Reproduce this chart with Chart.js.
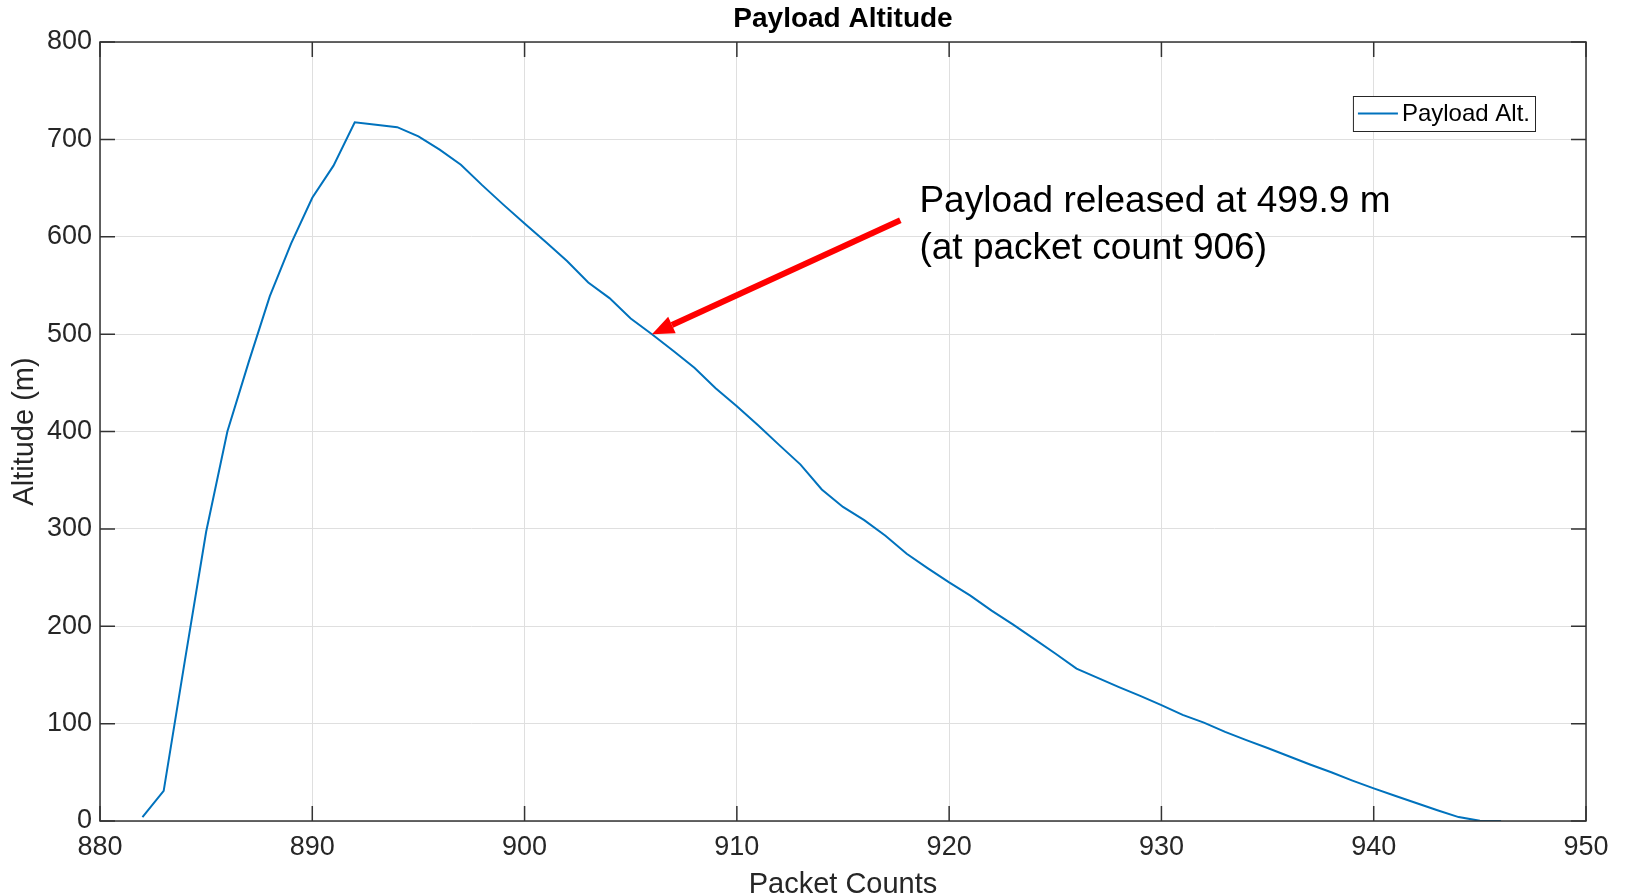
<!DOCTYPE html>
<html>
<head>
<meta charset="utf-8">
<title>Payload Altitude</title>
<script src="https://cdn.jsdelivr.net/npm/chart.js@4.4.1/dist/chart.umd.min.js"></script>
<style>
  html, body { margin: 0; padding: 0; background: #fff; }
  #wrap { width: 1625px; height: 895px; }
</style>
</head>
<body>
<div id="wrap"><canvas id="altChart"></canvas></div>
<script>
// telemetry
var packetCounts = [882, 883, 884, 885, 886, 887, 888, 889, 890, 891,
  892, 893, 894, 895, 896, 897, 898, 899, 900, 901,
  902, 903, 904, 905, 906, 907, 908, 909, 910, 911,
  912, 913, 914, 915, 916, 917, 918, 919, 920, 921,
  922, 923, 924, 925, 926, 927, 928, 929, 930, 931,
  932, 933, 934, 935, 936, 937, 938, 939, 940, 941,
  942, 943, 944, 945, 946];
var altitudes = [4, 31, 165, 297, 400, 471, 539, 593, 640, 673,
  717.5, 715, 712.5, 703, 689.5, 674, 653, 633, 613.5, 594.5,
  575, 553, 537, 516, 499.9, 483, 465.5, 444.5, 426, 406.5,
  386, 366, 340.5, 322.5, 309, 293, 274.5, 259.5, 245, 231.5,
  216, 202, 187, 172, 156.5, 147, 137.5, 128.5, 119, 109,
  101, 91.5, 83, 75, 66.5, 58, 50, 41.5, 33.5, 26,
  18.5, 11, 4, 0.2, 0];
var xTicks = [880, 890, 900, 910, 920, 930, 940, 950];
var yTicks = [0, 100, 200, 300, 400, 500, 600, 700, 800];
var seriesName = 'Payload Alt.';
var chartTitle = 'Payload Altitude';
var noteLines = ['Payload released at 499.9 m', '(at packet count 906)'];

var FONT = '"Liberation Sans", Arial, Helvetica, sans-serif';
Chart.defaults.font.family = FONT;

var points = [];
for (var i = 0; i < packetCounts.length; i++) {
  points.push({ x: packetCounts[i], y: altitudes[i] });
}

// title centred over the axes, like matlab does it
var axesTitle = {
  id: 'axesTitle',
  afterDraw: function(chart) {
    var ctx = chart.ctx, a = chart.chartArea;
    ctx.save();
    ctx.font = 'bold 28px ' + FONT;
    ctx.fillStyle = '#000000';
    ctx.textAlign = 'center';
    ctx.textBaseline = 'alphabetic';
    ctx.fillText(chartTitle, (a.left + a.right) / 2, a.top - 15);
    ctx.restore();
  }
};

// box round the axes with inward ticks on every side
var matlabAxes = {
  id: 'matlabAxes',
  afterDatasetsDraw: function(chart) {
    var ctx = chart.ctx, a = chart.chartArea;
    var xs = chart.scales.x, ys = chart.scales.y;
    var tl = 15;
    ctx.save();
    ctx.strokeStyle = '#333333';
    ctx.lineWidth = 1.5;
    ctx.beginPath();
    xTicks.forEach(function(v) {
      var px = xs.getPixelForValue(v);
      ctx.moveTo(px, a.bottom); ctx.lineTo(px, a.bottom - tl);
      ctx.moveTo(px, a.top); ctx.lineTo(px, a.top + tl);
    });
    yTicks.forEach(function(v) {
      var py = ys.getPixelForValue(v);
      ctx.moveTo(a.left, py); ctx.lineTo(a.left + tl, py);
      ctx.moveTo(a.right, py); ctx.lineTo(a.right - tl, py);
    });
    ctx.stroke();
    ctx.strokeRect(a.left, a.top, a.right - a.left, a.bottom - a.top);
    ctx.restore();
  }
};

// red arrow + text pointing at the release point
var releaseNote = {
  id: 'releaseNote',
  afterDraw: function(chart, args, opts) {
    var ctx = chart.ctx;
    var xs = chart.scales.x, ys = chart.scales.y;
    var tipX = xs.getPixelForValue(opts.tip.x), tipY = ys.getPixelForValue(opts.tip.y);
    var tailX = xs.getPixelForValue(opts.tail.x), tailY = ys.getPixelForValue(opts.tail.y);
    var ang = Math.atan2(tipY - tailY, tipX - tailX);
    var headLen = 22, headW = 9;
    var bx = tipX - headLen * Math.cos(ang), by = tipY - headLen * Math.sin(ang);

    ctx.save();
    ctx.strokeStyle = '#ff0000';
    ctx.fillStyle = '#ff0000';
    ctx.lineWidth = 6;
    ctx.lineCap = 'butt';
    ctx.beginPath();
    ctx.moveTo(tailX, tailY);
    ctx.lineTo(bx, by);
    ctx.stroke();
    ctx.beginPath();
    ctx.moveTo(tipX, tipY);
    ctx.lineTo(bx + headW * Math.sin(ang), by - headW * Math.cos(ang));
    ctx.lineTo(bx - headW * Math.sin(ang), by + headW * Math.cos(ang));
    ctx.closePath();
    ctx.fill();

    ctx.fillStyle = '#000000';
    ctx.font = '37px ' + FONT;
    ctx.textAlign = 'left';
    ctx.textBaseline = 'alphabetic';
    var tx = xs.getPixelForValue(opts.text.x), ty = ys.getPixelForValue(opts.text.y);
    noteLines.forEach(function(line, k) {
      ctx.fillText(line, tx, ty + k * 47);
    });
    ctx.restore();
  }
};

// legend box inside the top right corner
var innerLegend = {
  id: 'innerLegend',
  afterDraw: function(chart) {
    var ctx = chart.ctx, a = chart.chartArea;
    var ds = chart.data.datasets[0];
    ctx.save();
    ctx.font = '24px ' + FONT;
    var tw = ctx.measureText(ds.label).width;
    var w = 5 + 40 + 4 + tw + 5, h = 35;
    var x = a.right - 51 - w, y = a.top + 54;
    ctx.fillStyle = '#ffffff';
    ctx.fillRect(x, y, w, h);
    ctx.strokeStyle = '#262626';
    ctx.lineWidth = 1;
    ctx.strokeRect(x + 0.5, y + 0.5, w, h);
    ctx.strokeStyle = ds.borderColor;
    ctx.lineWidth = 2;
    ctx.beginPath();
    ctx.moveTo(x + 5, y + h / 2);
    ctx.lineTo(x + 45, y + h / 2);
    ctx.stroke();
    ctx.fillStyle = '#000000';
    ctx.textBaseline = 'middle';
    ctx.fillText(ds.label, x + 49, y + h / 2 + 1);
    ctx.restore();
  }
};

var ctx = document.getElementById('altChart');

var altChart = new Chart(ctx, {
  type: 'line',
  data: {
    datasets: [{
      label: seriesName,
      data: points,
      borderColor: '#0072BD',
      borderWidth: 2,
      pointRadius: 0,
      tension: 0,
      fill: false
    }]
  },
  options: {
    responsive: true,
    maintainAspectRatio: false,
    animation: false,
    layout: { padding: { left: 0, right: 39, top: 42, bottom: 0 } },
    scales: {
      x: {
        type: 'linear',
        min: 880,
        max: 950,
        afterBuildTicks: function(s) { s.ticks = xTicks.map(function(v) { return { value: v }; }); },
        afterFit: function(s) { s.height = 74; },
        grid: { color: '#dfdfdf', lineWidth: 1, drawTicks: false },
        border: { display: false },
        ticks: { color: '#262626', font: { size: 27 }, padding: 10, maxRotation: 0 },
        title: { display: true, text: 'Packet Counts', color: '#262626',
                 font: { size: 29, lineHeight: 0.67 }, padding: { top: 0, bottom: 0 } }
      },
      y: {
        min: 0,
        max: 800,
        afterBuildTicks: function(s) { s.ticks = yTicks.map(function(v) { return { value: v }; }); },
        afterFit: function(s) { s.width = 100; },
        grid: { color: '#dfdfdf', lineWidth: 1, drawTicks: false },
        border: { display: false },
        ticks: { color: '#262626', font: { size: 27 }, padding: 8 },
        title: { display: true, text: 'Altitude (m)', color: '#262626',
                 font: { size: 29 }, padding: { top: 8, bottom: 0 } }
      }
    },
    plugins: {
      legend: { display: false },
      tooltip: { enabled: false },
      title: { display: false },
      releaseNote: {
        tip: { x: 906, y: 499.9 },
        tail: { x: 917.7, y: 617 },
        text: { x: 918.6, y: 625 }
      }
    }
  },
  plugins: [matlabAxes, releaseNote, innerLegend, axesTitle]
});
</script>
</body>
</html>
